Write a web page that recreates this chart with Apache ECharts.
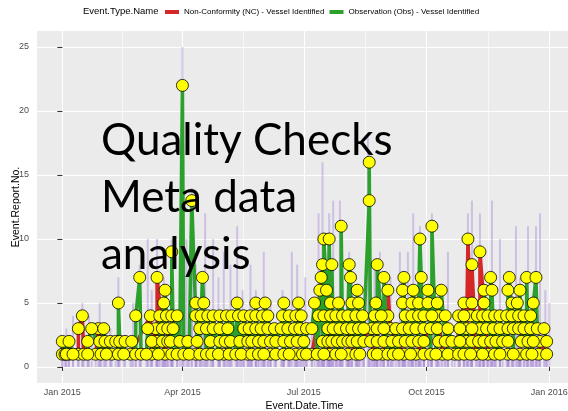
<!DOCTYPE html>
<html>
<head>
<meta charset="utf-8">
<script src="https://cdn.jsdelivr.net/npm/echarts@6/dist/echarts.min.js"></script>
<style>
  html, body { margin: 0; padding: 0; background: #fff; }
  #chart { width: 568px; height: 411px; }
</style>
</head>
<body>
<div id="chart"></div>
<script>
// x values are days counted from 1 Jan 2015
const xTickDays = [0, 90, 181, 273, 365];
const xTickLabels = ['Jan 2015', 'Apr 2015', 'Jul 2015', 'Oct 2015', 'Jan 2016'];
const xMinorDays = [45, 135.5, 227, 319];
const yTicks = [0, 5, 10, 15, 20, 25];
const typeNames = ['Non-Conformity (NC) - Vessel Identified', 'Observation (Obs) - Vessel Identified'];
const overlayLines = ['Quality Checks', 'Meta data', 'analysis'];

// [day, Event.Report.No.] for Non-Conformity events
const ncPoints = [
  [5,1],[12,1],[16,1],[25,1],[37,1],[51,1],[67,1],[77,1],[100,1],[121,1],[139,1],[156,1],[175,1],[187,1],
  [200,1],[214,1],[233,1],[240,1],[256,1],[265,1],[285,1],[294,1],[310,1],[319,1],[334,1],[343,1],[357,1],[363,1],
  [28,2],[71,2],[303,2],[358,2],
  [12,3],[27,3],[70,3],[199,3],[232,3],[246,3],[303,3],[313,3],
  [15,4],[66,4],[192,4],[244,4],[282,4],[306,4],
  [301,5],[307,5],
  [193,6],[244,6],
  [71,7],
  [307,8],
  [313,9],
  [304,10]
];

// [day, Event.Report.No.] for Observation events
const obsPoints = [
  [0,1],[2,1],[3,1],[8,1],[19,1],[29,1],[33,1],[42,1],[46,1],[55,1],[59,1],[63,1],[72,1],[82,1],[86,1],[91,1],
  [95,1],[103,1],[108,1],[112,1],[117,1],[125,1],[130,1],[134,1],[142,1],[147,1],[151,1],[160,1],[166,1],[170,1],
  [180,1],[183,1],[191,1],[196,1],[205,1],[209,1],[220,1],[223,1],[236,1],[244,1],[248,1],[252,1],[261,1],[271,1],
  [276,1],[280,1],[289,1],[297,1],[301,1],[306,1],[315,1],[324,1],[328,1],[338,1],[348,1],[352,1],
  [0,2],[5,2],[19,2],[32,2],[36,2],[40,2],[43,2],[47,2],[52,2],[67,2],[75,2],[79,2],[81,2],[88,2],[94,2],[101,2],
  [111,2],[118,2],[122,2],[126,2],[133,2],[139,2],[142,2],[147,2],[151,2],[156,2],[160,2],[166,2],[171,2],[176,2],
  [181,2],[195,2],[199,2],[202,2],[206,2],[210,2],[214,2],[217,2],[221,2],[226,2],[231,2],[236,2],[241,2],[247,2],
  [252,2],[257,2],[262,2],[267,2],[271,2],[282,2],[287,2],[292,2],[298,2],[307,2],[312,2],[316,2],[321,2],[325,2],
  [330,2],[334,2],[344,2],[349,2],[353,2],[363,2],
  [22,3],[31,3],[64,3],[75,3],[79,3],[83,3],[103,3],[108,3],[113,3],[118,3],[124,3],[136,3],[140,3],[145,3],
  [149,3],[154,3],[159,3],[164,3],[169,3],[174,3],[178,3],[183,3],[187,3],[203,3],[208,3],[213,3],[217,3],[222,3],
  [226,3],[236,3],[241,3],[250,3],[255,3],[260,3],[265,3],[271,3],[276,3],[281,3],[289,3],[298,3],[307,3],[318,3],
  [323,3],[328,3],[334,3],[338,3],[342,3],[346,3],[351,3],[356,3],[361,3],
  [55,4],[73,4],[78,4],[82,4],[86,4],[100,4],[104,4],[109,4],[113,4],[118,4],[123,4],[127,4],[132,4],[136,4],
  [141,4],[145,4],[150,4],[154,4],[165,4],[170,4],[175,4],[179,4],[196,4],[201,4],[205,4],[210,4],[214,4],[220,4],
  [225,4],[234,4],[239,4],[257,4],[262,4],[267,4],[271,4],[277,4],[287,4],[297,4],[301,4],[311,4],[315,4],[319,4],
  [324,4],[328,4],[333,4],[337,4],[342,4],[346,4],[351,4],
  [42,5],[76,5],[100,5],[106,5],[131,5],[145,5],[152,5],[166,5],[177,5],[189,5],[201,5],[207,5],[217,5],[222,5],
  [235,5],[255,5],[262,5],[267,5],[274,5],[281,5],[316,5],[337,5],[341,5],[353,5],
  [77,6],[198,6],[221,6],[255,6],[263,6],[274,6],[284,6],[316,6],[322,6],[334,6],[343,6],
  [58,7],[105,7],[194,7],[216,7],[241,7],[256,7],[269,7],[321,7],[335,7],[348,7],[355,7],
  [195,8],[202,8],[215,8],[236,8],
  [82,9],
  [196,10],[200,10],[268,10],
  [209,11],[277,11],
  [97,13],[230,13],
  [230,16],
  [90,22]
];

// [day, height] thin lavender bars standing above the points
const extraBars = [
  [3,3],[8,4],[15,5],[20,4],[28,5],[36,3],[42,7],[53,5],[58,8],[64,10],[67,6],[71,10],[76,7],[82,10],[90,25],
  [93,10],[97,14],[100,8],[107,12],[113,10],[117,7],[121,9],[126,8],[131,11],[135,6],[141,8],[145,6],[151,9],
  [156,5],[165,6],[172,9],[176,8],[182,7],[192,12],[195,16],[200,12],[203,13],[208,13],[215,9],[229,18],[234,8],
  [238,9],[246,7],[253,9],[259,9],[263,12],[268,11],[277,12],[289,9],[304,12],[307,13],[313,12],[322,13],[328,10],
  [340,11],[343,7],[349,11],[355,11],[358,12],[362,6],[365,5]
];

const byDay = pts => pts.slice().sort((a, b) => a[0] - b[0]);
const allPoints = ncPoints.concat(obsPoints);
const barData = extraBars.concat(allPoints);

const FONT = 'Liberation Sans';
const X_MIN = -19, X_MAX = 382;
const chart = echarts.init(document.getElementById('chart'));

chart.setOption({
  animation: false,
  backgroundColor: '#ffffff',
  title: {
    text: 'Event.Type.Name',
    left: 78, top: 1,
    textStyle: { fontFamily: FONT, fontSize: 9.5, fontWeight: 'normal', color: '#000' }
  },
  legend: {
    data: typeNames,
    left: 160, top: 3,
    icon: 'rect', itemWidth: 14, itemHeight: 4, itemGap: 5,
    textStyle: { fontFamily: FONT, fontSize: 8, color: '#000' },
    selectedMode: false
  },
  grid: {
    left: 37, right: -4, top: 31, bottom: 28,
    outerBoundsMode: 'none', containLabel: false,
    show: true, backgroundColor: '#EBEBEB', borderWidth: 0
  },
  xAxis: [{
    type: 'value',
    min: X_MIN, max: X_MAX,
    name: 'Event.Date.Time', nameLocation: 'middle', nameGap: 18, nameMoveOverlap: false,
    nameTextStyle: { fontFamily: FONT, fontSize: 10.5, color: '#000' },
    axisLine: { show: false },
    axisTick: { show: true, length: 4, lineStyle: { color: '#333' }, customValues: xTickDays },
    axisLabel: {
      customValues: xTickDays, margin: 5,
      fontFamily: FONT, fontSize: 9, color: '#4D4D4D',
      formatter: v => xTickLabels[xTickDays.indexOf(v)] || ''
    },
    splitLine: { show: true, lineStyle: { color: '#fff', width: 1.1 } }
  }, {
    type: 'value',
    min: X_MIN, max: X_MAX,
    position: 'bottom',
    axisLine: { show: false },
    axisTick: { show: false, customValues: xMinorDays },
    axisLabel: { show: false, customValues: xMinorDays },
    splitLine: { show: true, lineStyle: { color: '#fff', width: 0.6 } }
  }],
  yAxis: {
    type: 'value',
    min: -1.25, max: 26.25,
    name: 'Event.Report.No.', nameLocation: 'middle', nameGap: 15, nameMoveOverlap: false,
    nameTextStyle: { fontFamily: FONT, fontSize: 10.5, color: '#000' },
    axisLine: { show: false },
    axisTick: { show: true, length: 5, lineStyle: { color: '#333' }, customValues: yTicks },
    axisLabel: { customValues: yTicks, margin: 8, fontFamily: FONT, fontSize: 9, color: '#4D4D4D' },
    splitLine: { show: true, lineStyle: { color: '#fff', width: 1.1 } }
  },
  graphic: overlayLines.map((t, i) => ({
    type: 'text', left: 101, top: 119 + i * 57, z: 100,
    style: { text: t, font: '44px Lato', fill: '#000' }
  })),
  series: [
    {
      type: 'bar', name: 'count', data: barData, barWidth: 2, z: 1, silent: true,
      itemStyle: { color: 'rgba(170,140,215,0.45)' }
    },
    {
      type: 'line', name: typeNames[0], data: byDay(ncPoints), symbol: 'none', z: 2,
      lineStyle: { color: '#D62728', width: 3.5 }, itemStyle: { color: '#D62728' }
    },
    {
      type: 'line', name: typeNames[1], data: byDay(obsPoints), symbol: 'none', z: 2,
      lineStyle: { color: '#2CA02C', width: 3.5 }, itemStyle: { color: '#2CA02C' }
    },
    {
      type: 'scatter', name: 'points', data: allPoints,
      symbolSize: 12, z: 3, silent: true,
      itemStyle: { color: '#FFFF00', borderColor: '#000', borderWidth: 0.8, opacity: 1 }
    }
  ]
});
</script>
</body>
</html>
